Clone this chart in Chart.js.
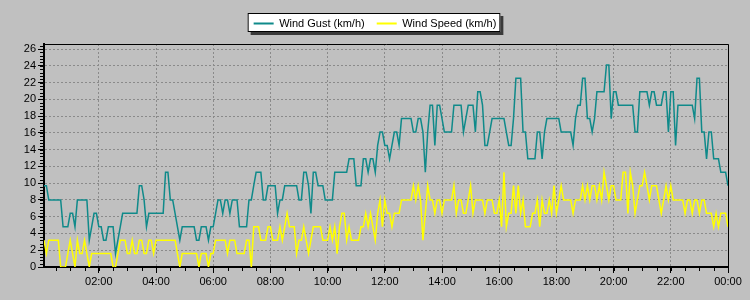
<!DOCTYPE html>
<html>
<head>
<meta charset="utf-8">
<script src="https://cdn.jsdelivr.net/npm/chart.js@4.4.1/dist/chart.umd.min.js"></script>
<style>
  html, body { margin: 0; padding: 0; background: #c0c0c0; }
</style>
</head>
<body>
<canvas id="windChart" width="750" height="300"></canvas>
<script>
// readings every 5 minutes, 00:05 .. 00:00 (km/h)
var windGust = [
  9.7, 9.7, 8.0, 8.0, 8.0, 8.0, 8.0, 8.0, 4.8, 4.8,
  4.8, 6.4, 6.4, 4.8, 8.0, 8.0, 8.0, 8.0, 8.0, 3.2,
  4.8, 6.4, 6.4, 4.8, 4.8, 3.2, 3.2, 4.8, 4.8, 4.8,
  1.6, 3.2, 4.8, 6.4, 6.4, 6.4, 6.4, 6.4, 6.4, 6.4,
  9.7, 9.7, 8.0, 4.8, 6.4, 6.4, 6.4, 6.4, 6.4, 6.4,
  6.4, 11.3, 11.3, 8.0, 8.0, 6.4, 4.8, 3.2, 4.8, 4.8,
  4.8, 4.8, 4.8, 4.8, 3.2, 3.2, 4.8, 4.8, 4.8, 3.2,
  4.8, 4.8, 6.4, 8.0, 8.0, 6.4, 8.0, 8.0, 6.4, 8.0,
  8.0, 8.0, 4.8, 4.8, 4.8, 4.8, 8.0, 8.0, 9.7, 11.3,
  11.3, 11.3, 8.0, 8.0, 9.7, 9.7, 9.7, 9.7, 6.4, 8.0,
  8.0, 9.7, 9.7, 9.7, 9.7, 9.7, 9.7, 8.0, 8.0, 11.3,
  11.3, 9.7, 6.4, 11.3, 11.3, 9.7, 9.7, 9.7, 8.0, 8.0,
  8.0, 8.0, 11.3, 11.3, 11.3, 11.3, 11.3, 11.3, 12.9, 12.9,
  12.9, 9.7, 9.7, 9.7, 12.9, 12.9, 11.3, 12.9, 12.9, 11.3,
  14.5, 16.1, 16.1, 14.5, 14.5, 12.9, 14.5, 16.1, 16.1, 14.5,
  17.7, 17.7, 17.7, 17.7, 17.7, 16.1, 16.1, 17.7, 17.7, 16.1,
  11.3, 16.1, 19.3, 19.3, 14.5, 19.3, 19.3, 17.7, 16.1, 16.1,
  16.1, 16.1, 19.3, 19.3, 19.3, 19.3, 16.1, 17.7, 19.3, 19.3,
  19.3, 16.1, 20.9, 20.9, 19.3, 14.5, 14.5, 16.1, 17.7, 17.7,
  17.7, 17.7, 17.7, 17.7, 16.1, 14.5, 14.5, 17.7, 22.5, 22.5,
  22.5, 16.1, 16.1, 12.9, 12.9, 12.9, 12.9, 16.1, 16.1, 12.9,
  16.1, 17.7, 17.7, 17.7, 17.7, 17.7, 17.7, 16.1, 16.1, 16.1,
  16.1, 16.1, 14.5, 17.7, 19.3, 19.3, 22.5, 22.5, 17.7, 17.7,
  16.1, 17.7, 20.9, 20.9, 20.9, 20.9, 24.1, 24.1, 17.7, 20.9,
  20.9, 19.3, 19.3, 19.3, 19.3, 19.3, 19.3, 19.3, 16.1, 16.1,
  20.9, 20.9, 20.9, 20.9, 19.3, 20.9, 20.9, 19.3, 19.3, 19.3,
  20.9, 20.9, 16.1, 20.9, 20.9, 14.5, 19.3, 19.3, 19.3, 19.3,
  19.3, 19.3, 19.3, 17.7, 22.5, 22.5, 16.1, 16.1, 12.9, 16.1,
  16.1, 12.9, 12.9, 12.9, 11.3, 11.3, 11.3, 9.7
];

var windSpeed = [
  3.2, 1.6, 3.2, 3.2, 3.2, 3.2, 3.2, 0, 0, 0,
  1.6, 3.2, 1.6, 0, 3.2, 1.6, 1.6, 3.2, 1.6, 0,
  1.6, 1.6, 1.6, 1.6, 1.6, 1.6, 1.6, 1.6, 1.6, 0,
  0, 1.6, 3.2, 3.2, 3.2, 1.6, 1.6, 3.2, 1.6, 1.6,
  3.2, 3.2, 1.6, 1.6, 3.2, 3.2, 1.6, 3.2, 3.2, 3.2,
  3.2, 3.2, 3.2, 3.2, 3.2, 3.2, 1.6, 0, 1.6, 1.6,
  1.6, 1.6, 1.6, 1.6, 1.6, 0, 1.6, 1.6, 1.6, 0,
  1.6, 1.6, 3.2, 3.2, 3.2, 3.2, 3.2, 1.6, 3.2, 3.2,
  3.2, 1.6, 1.6, 1.6, 1.6, 3.2, 3.2, 0, 4.8, 4.8,
  4.8, 3.2, 3.2, 3.2, 4.8, 4.8, 3.2, 3.2, 3.2, 4.8,
  3.2, 4.8, 6.4, 4.8, 4.8, 4.8, 1.6, 3.2, 3.2, 4.8,
  3.2, 1.6, 3.2, 4.8, 4.8, 4.8, 4.8, 3.2, 3.2, 3.2,
  4.8, 3.2, 4.8, 1.6, 4.8, 6.4, 6.4, 3.2, 4.8, 3.2,
  3.2, 3.2, 3.2, 4.8, 4.8, 6.4, 4.8, 6.4, 4.8, 3.2,
  6.4, 8.0, 4.8, 8.0, 6.4, 6.4, 4.8, 6.4, 6.4, 6.4,
  8.0, 8.0, 8.0, 8.0, 8.0, 9.7, 8.0, 9.7, 8.0, 3.2,
  6.4, 9.7, 8.0, 8.0, 6.4, 8.0, 8.0, 6.4, 8.0, 8.0,
  8.0, 8.0, 9.7, 6.4, 8.0, 8.0, 6.4, 6.4, 8.0, 9.7,
  6.4, 8.0, 8.0, 8.0, 8.0, 6.4, 8.0, 8.0, 8.0, 6.4,
  6.4, 8.0, 4.8, 11.3, 4.8, 6.4, 6.4, 9.7, 6.4, 9.7,
  6.4, 8.0, 4.8, 4.8, 4.8, 6.4, 6.4, 8.0, 4.8, 8.0,
  6.4, 6.4, 8.0, 6.4, 9.7, 6.4, 8.0, 9.7, 8.0, 8.0,
  8.0, 8.0, 6.4, 8.0, 8.0, 8.0, 9.7, 8.0, 9.7, 8.0,
  9.7, 9.7, 8.0, 9.7, 8.0, 11.3, 9.7, 8.0, 9.7, 9.7,
  8.0, 8.0, 8.0, 11.3, 11.3, 6.4, 11.3, 9.7, 6.4, 8.0,
  9.7, 9.7, 11.3, 9.7, 8.0, 9.7, 9.7, 9.7, 8.0, 6.4,
  8.0, 9.7, 8.0, 9.7, 8.0, 8.0, 8.0, 8.0, 8.0, 6.4,
  8.0, 8.0, 6.4, 8.0, 8.0, 6.4, 8.0, 8.0, 6.4, 6.4,
  6.4, 4.8, 6.4, 4.8, 6.4, 6.4, 6.4, 4.8
];

var seriesLabels = ['Wind Gust (km/h)', 'Wind Speed (km/h)'];
var seriesColors = ['#0f8a8a', '#ffff00'];

// x axis in minutes since midnight, labels every 2 hours
var firstReading = 5;
var readingStep = 5;
var hourTicks = [120, 240, 360, 480, 600, 720, 840, 960, 1080, 1200, 1320, 1440];
var speedTicks = [0, 2, 4, 6, 8, 10, 12, 14, 16, 18, 20, 22, 24, 26];
var yMax = 26.6;

var minutes = windGust.map(function (v, i) { return firstReading + i * readingStep; });

function toPoints(values) {
    return values.map(function (v, i) { return { x: minutes[i], y: v }; });
}

function hhmm(m) {
    var h = Math.floor(m / 60) % 24;
    var mm = m % 60;
    return (h < 10 ? '0' : '') + h + ':' + (mm < 10 ? '0' : '') + mm;
}

var axisFont = { family: 'Liberation Sans', size: 11 };
var legendLift = 5;

// move the legend up a little, it sits closer to the top than chart.js puts it
var legendShift = {
    id: 'legendShift',
    afterLayout: function (chart) {
        var lg = chart.legend;
        lg.top -= legendLift;
        lg.bottom -= legendLift;
        (lg.legendHitBoxes || []).forEach(function (b) { b.top -= legendLift; });
    }
};

// white legend box with a drop shadow
var legendBox = {
    id: 'legendBox',
    beforeDraw: function (chart) {
        var boxes = chart.legend.legendHitBoxes;
        if (!boxes || !boxes.length) return;
        var last = boxes[boxes.length - 1];
        var left = boxes[0].left - 6;
        var right = last.left + last.width + 4;
        var top = boxes[0].top;
        var bottom = boxes[0].top + boxes[0].height + 8;
        var ctx = chart.ctx;
        ctx.save();
        ctx.fillStyle = '#3a3a3a';
        ctx.fillRect(left + 3, top + 3, right - left, bottom - top);
        ctx.fillStyle = '#ffffff';
        ctx.fillRect(left, top, right - left, bottom - top);
        ctx.strokeStyle = '#000000';
        ctx.lineWidth = 1;
        ctx.strokeRect(left + 0.5, top + 0.5, right - left - 1, bottom - top - 1);
        ctx.restore();
    }
};

// frame round the plot and the small minor tick marks
var plotFrame = {
    id: 'plotFrame',
    afterDraw: function (chart) {
        var ctx = chart.ctx;
        var a = chart.chartArea;
        var xs = chart.scales.x;
        var ys = chart.scales.y;
        ctx.save();
        ctx.strokeStyle = '#000000';
        ctx.lineWidth = 1;
        ctx.beginPath();
        ctx.moveTo(a.left, a.top + 0.5);
        ctx.lineTo(a.right + 0.5, a.top + 0.5);
        ctx.lineTo(a.right + 0.5, a.bottom);
        ctx.stroke();

        ctx.beginPath();
        for (var v = 0; v <= yMax; v += 0.4) {
            var py = Math.round(ys.getPixelForValue(v)) + 0.5;
            ctx.moveTo(a.left - 4, py);
            ctx.lineTo(a.left, py);
        }
        for (var m = 30; m <= 1440; m += 30) {
            var px = Math.round(xs.getPixelForValue(m)) + 0.5;
            ctx.moveTo(px, a.bottom);
            ctx.lineTo(px, a.bottom + 4);
        }
        ctx.stroke();
        ctx.restore();
    }
};

var ctx = document.getElementById('windChart').getContext('2d');

var myChart = new Chart(ctx, {
    type: 'line',
    data: {
        datasets: [{
            label: seriesLabels[0],
            data: toPoints(windGust),
            borderColor: seriesColors[0],
            backgroundColor: seriesColors[0],
            borderWidth: 1.5,
            pointRadius: 0,
            tension: 0,
            fill: false
        }, {
            label: seriesLabels[1],
            data: toPoints(windSpeed),
            borderColor: seriesColors[1],
            backgroundColor: seriesColors[1],
            borderWidth: 1.5,
            pointRadius: 0,
            tension: 0,
            fill: false
        }]
    },
    options: {
        responsive: false,
        animation: false,
        layout: { padding: { top: 11, right: 22, bottom: 0, left: 22 } },
        plugins: {
            tooltip: { enabled: false },
            legend: {
                position: 'top',
                labels: {
                    font: axisFont,
                    color: '#000000',
                    boxWidth: 20,
                    boxHeight: 2,
                    padding: 12,
                    generateLabels: function (chart) {
                        return chart.data.datasets.map(function (ds, i) {
                            return {
                                text: ds.label,
                                fillStyle: ds.borderColor,
                                strokeStyle: ds.borderColor,
                                lineWidth: 0,
                                fontColor: '#000000',
                                hidden: false,
                                datasetIndex: i
                            };
                        });
                    }
                }
            }
        },
        scales: {
            x: {
                type: 'linear',
                min: firstReading,
                max: 1440,
                afterBuildTicks: function (scale) {
                    scale.ticks = hourTicks.map(function (v) { return { value: v }; });
                },
                afterFit: function (scale) { scale.height = 33; },
                ticks: {
                    autoSkip: false,
                    maxRotation: 0,
                    padding: 2,
                    color: '#000000',
                    font: axisFont,
                    callback: function (value) { return hhmm(value); }
                },
                grid: { color: '#8a8a8a', tickColor: '#000000', tickLength: 6, lineWidth: 1 },
                border: { color: '#000000', width: 2, dash: [2, 2] }
            },
            y: {
                min: 0,
                max: yMax,
                afterBuildTicks: function (scale) {
                    scale.ticks = speedTicks.map(function (v) { return { value: v }; });
                },
                afterFit: function (scale) { scale.width = 22; },
                ticks: {
                    padding: 2,
                    color: '#000000',
                    font: axisFont
                },
                grid: { color: '#8a8a8a', tickColor: '#000000', tickLength: 6, lineWidth: 1 },
                border: { color: '#000000', width: 2, dash: [2, 2] }
            }
        }
    },
    plugins: [legendShift, legendBox, plotFrame]
});
</script>
</body>
</html>
